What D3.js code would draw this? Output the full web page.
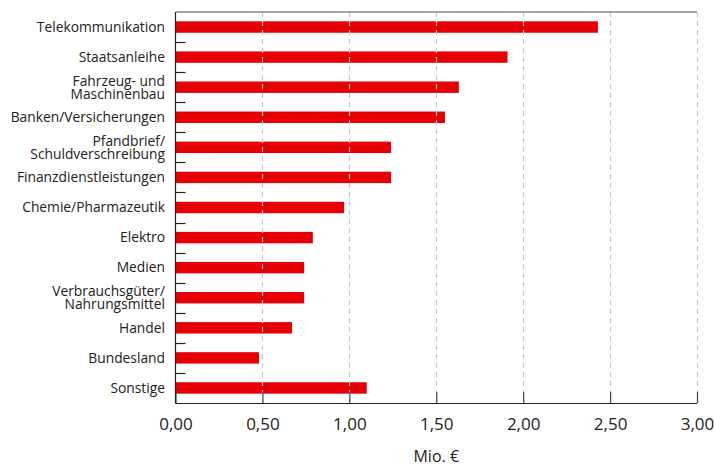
<!DOCTYPE html>
<html><head><meta charset="utf-8">
<script src="https://cdn.jsdelivr.net/npm/d3@7"></script>
<style>body{margin:0;background:#fff;}svg{display:block;font-family:"Open Sans",sans-serif;}</style>
</head><body>
<svg id="c" width="714" height="467"></svg>
<script>
const categories = ["Telekommunikation","Staatsanleihe","Fahrzeug- und\nMaschinenbau","Banken/Versicherungen","Pfandbrief/\nSchuldverschreibung","Finanzdienstleistungen","Chemie/Pharmazeutik","Elektro","Medien","Verbrauchsgüter/\nNahrungsmittel","Handel","Bundesland","Sonstige"];
const values = [2.43,1.91,1.63,1.55,1.24,1.24,0.97,0.79,0.74,0.74,0.67,0.48,1.10];
const xTicks = [0,0.5,1,1.5,2,2.5,3];
const xTitle = "Mio. €";

const svg = d3.select("#c");
const L=175.5, R=697, T=12, B=403;
const x = d3.scaleLinear().domain([0,3]).range([L,R]);
const y = d3.scaleBand().domain(categories).range([T,B]).paddingInner(0.62).paddingOuter(0.31);
const fmt = d => d3.format(".2f")(d).replace(".",",");

// bars
svg.append("g").selectAll("rect").data(values).join("rect")
  .attr("x", x(0)).attr("y",(d,i)=>y(categories[i]))
  .attr("width", d=>x(d)-x(0)).attr("height", y.bandwidth())
  .attr("fill","#e60005");

// gridlines on top
svg.append("g").selectAll("line").data(xTicks.slice(1)).join("line")
  .attr("x1",d=>Math.round(x(d))+0.5).attr("x2",d=>Math.round(x(d))+0.5)
  .attr("y1",T).attr("y2",B)
  .attr("stroke","#c8c8c8").attr("stroke-width",1.2).attr("stroke-dasharray","5,4");

// top border
svg.append("line").attr("x1",L).attr("x2",R).attr("y1",T).attr("y2",T)
  .attr("stroke","#888").attr("stroke-width",1.5);

// x axis
const xa = svg.append("g").attr("transform",`translate(0,${B})`)
  .call(d3.axisBottom(x).tickValues(xTicks).tickFormat(fmt).tickSize(-11).tickPadding(15));
xa.select(".domain").attr("stroke","#222").attr("stroke-width",1.2).attr("d",`M${L},0.5H${R}`);
xa.selectAll(".tick line").attr("stroke","#444").attr("stroke-width",1.2);
xa.selectAll(".tick text").attr("font-size",17).attr("fill","#222").attr("font-family","Open Sans");

// left axis line
svg.append("line").attr("x1",L).attr("x2",L).attr("y1",T).attr("y2",B+0.5)
  .attr("stroke","#222").attr("stroke-width",1.2);
// left ticks between bands
svg.append("g").selectAll("line").data(d3.range(1,categories.length)).join("line")
  .attr("x1",L).attr("x2",L+10)
  .attr("y1",k=>Math.round(T+k*(B-T)/categories.length)+0.5)
  .attr("y2",k=>Math.round(T+k*(B-T)/categories.length)+0.5)
  .attr("stroke","#222").attr("stroke-width",1.2);

// category labels
const lab = svg.append("g").selectAll("text").data(categories).join("text")
  .attr("text-anchor","end").attr("font-size",13.8).attr("fill","#222")
  .attr("transform",d=>`translate(165,${y(d)+y.bandwidth()/2})`);
lab.each(function(d){
  const lines = d.split("\n");
  const n = lines.length;
  d3.select(this).selectAll("tspan").data(lines).join("tspan")
    .attr("x",0).attr("y",(l,i)=>(i-(n-1)/2)*13).attr("dy","0.35em").text(l=>l);
});

svg.append("text").attr("x",(L+R)/2).attr("y",462).attr("text-anchor","middle")
  .attr("font-size",16).attr("fill","#222").text(xTitle);
</script>
</body></html>
